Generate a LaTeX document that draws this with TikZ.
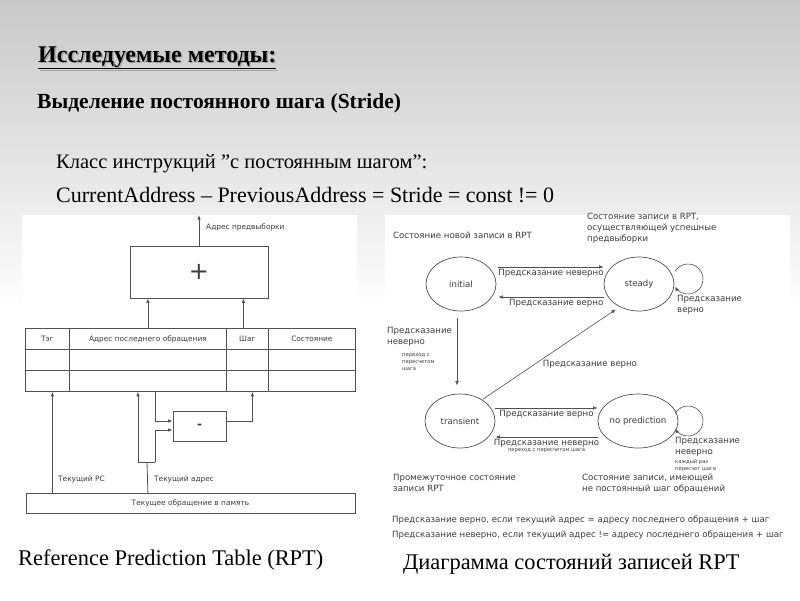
\documentclass[tikz,border=0pt]{standalone}
\usepackage{fontspec}
\setmainfont{Liberation Serif}
\newfontfamily\diafont{DejaVu Sans}
\usetikzlibrary{arrows.meta, positioning, shapes.geometric, calc}
\definecolor{dkgray}{RGB}{60,60,60}
\definecolor{lngray}{RGB}{80,80,80}
\definecolor{bgtop}{RGB}{200,200,200}
\tikzset{
  arr/.style={draw=lngray, line width=0.8pt, -{Latex[length=4.5pt,width=3.5pt]}},
  ln/.style={draw=lngray, line width=0.8pt},
  cellbox/.style={draw=lngray, line width=0.8pt, inner sep=0pt, font=\diafont\fontsize{7.4}{8}\selectfont, text=dkgray},
  stnode/.style={ellipse, draw=lngray, line width=0.7pt, minimum width=70pt, minimum height=54pt, inner sep=0pt, font=\diafont\fontsize{8.6}{9}\selectfont, text=dkgray},
  lbl/.style={font=\diafont\fontsize{8.6}{11}\selectfont, text=dkgray, inner sep=0pt, align=left},
  smalllbl/.style={font=\diafont\fontsize{5.2}{7}\selectfont, text=dkgray, inner sep=0pt, align=left},
  tbllbl/.style={font=\diafont\fontsize{7.4}{8}\selectfont, text=dkgray, inner sep=0pt},
  slide/.style={inner sep=0pt, anchor=base west},
}

\begin{document}
\begin{tikzpicture}[x=1pt, y=-1pt]
\useasboundingbox (0,0) rectangle (800,600);

% Background and panels
\fill[white] (0,0) rectangle (800,600);
\shade[top color=bgtop, bottom color=white] (0,0) rectangle (800,310);
\fill[white] (22,215) rectangle (357,525);
\fill[white] (385,215) rectangle (790,548);

% Slide text
\node[slide, font=\bfseries\fontsize{24}{26}\selectfont, text=black!35] at (39.5,63.5) {\underline{Исследуемые методы:}};
\node[slide, font=\bfseries\fontsize{24}{26}\selectfont] (title) at (38,62) {\underline{Исследуемые методы:}};
\node[slide, font=\bfseries\fontsize{21.5}{24}\selectfont] (subtitle) at (37,108) {Выделение постоянного шага (Stride)};
\node[slide, font=\fontsize{20.5}{22}\selectfont] (cls) at (56,168) {Класс инструкций ”с постоянным шагом”:};
\node[slide, font=\fontsize{22}{24}\selectfont] (formula) at (56,202) {CurrentAddress – PreviousAddress = Stride = const != 0};

% Captions
\node[slide, font=\fontsize{22.4}{24}\selectfont] (capl) at (18,565) {Reference Prediction Table (RPT)};
\node[slide, font=\fontsize{22.4}{24}\selectfont] (capr) at (403,569) {Диаграмма состояний записей RPT};

% ---------------- RPT ----------------
% Adder
\node[cellbox, minimum width=138pt, minimum height=52pt, font=\diafont\fontsize{24}{24}\selectfont] (plus) at (199,272) {+};
\coordinate (pfaddr) at (199,215);
\draw[arr] (plus.north) -- (pfaddr);
\node[tbllbl, anchor=west] (pflbl) at (206,227) {Адрес предвыборки};

% Table rows
\foreach \r/\ya in {1/328, 2/349, 3/370}
  \foreach \c/\xa/\w in {1/25/44, 2/69/157, 3/226/42, 4/268/87}
    \node[cellbox, minimum width={\w pt}, minimum height=21pt, anchor=north west] (c-\r-\c) at (\xa,\ya) {};
\node[tbllbl] at (c-1-1) {Тэг};
\node[tbllbl] at (c-1-2) {Адрес последнего обращения};
\node[tbllbl] at (c-1-3) {Шаг};
\node[tbllbl] at (c-1-4) {Состояние};

\draw[arr] (c-1-2.north) -- (c-1-2.north |- plus.south);
\draw[arr] ([xshift=-4pt]c-1-3.north) -- ([xshift=-4pt]c-1-3.north |- plus.south);

% Memory access
\node[cellbox, minimum width=329pt, minimum height=20pt] (mem) at (190.5,503) {Текущее обращение в память};
\draw[arr] ([xshift=5pt]c-3-1.south |- mem.north) -- ([xshift=5pt]c-3-1.south);
\node[tbllbl, anchor=west] (pclbl) at (58,479) {Текущий PC};

% Subtractor
\node[cellbox, minimum width=53pt, minimum height=30pt, font=\diafont\bfseries\fontsize{12}{12}\selectfont] (minus) at (199.5,426) {-};
\coordinate (split) at (147,462);
\coordinate (splitl) at (138,462);
\coordinate (splitr) at (155,462);
\draw[ln] (c-3-2.south |- mem.north) -- (split);
\draw[ln] (splitl) -- (splitr);
\draw[arr] (splitl) -- (splitl |- c-3-2.south);
\draw[arr] (splitr) |- ([yshift=-4pt]minus.west);
\draw[arr] (splitr |- c-3-2.south) |- ([yshift=5pt]minus.west);
\draw[arr] ([yshift=5pt]minus.east) -| ([xshift=5pt]c-3-3.south);
\node[tbllbl, anchor=west] (adlbl) at (154,479) {Текущий адрес};

% ---------------- State diagram ----------------
\node[stnode] (initial) at (461,284) {initial};
\node[stnode] (steady) at (639,284) {steady};
\node[stnode] (transient) at (460,421) {transient};
\node[stnode] (nopred) at (638,421) {no prediction};

\node[lbl, anchor=west] (newrec) at (393,235) {Состояние новой записи в RPT};
\node[lbl, anchor=north west] (okrec) at (587,213) {Состояние записи в RPT,\\осуществляющей успешные\\предвыборки};

% initial <-> steady
\draw[arr, line width=0.6pt] ([xshift=2pt,yshift=17pt]initial.east) -- ([yshift=17pt]steady.west)
  node[lbl, midway, below=2pt] {Предсказание неверно};
\draw[arr, line width=0.6pt] ([yshift=-13pt]steady.west) -- ([xshift=2pt,yshift=-13pt]initial.east)
  node[lbl, pos=0.45, below=2pt] {Предсказание верно};

% steady loop
\coordinate (sloop) at (688,279);
\draw[arr, line width=0.6pt] ([shift={(-150:15)}]sloop) arc[start angle=-150, end angle=150, radius=15];
\node[lbl, anchor=north west] (sllbl) at (677,295) {Предсказание\\верно};

% initial -> transient
\draw[arr, line width=0.6pt] ([xshift=-4pt,yshift=-7pt]initial.south) -- ([xshift=-3pt,yshift=8pt]transient.north);
\node[lbl, anchor=west] (itlbl) at (387,337) {Предсказание\\неверно};
\node[smalllbl, anchor=west] (itsm) at (402,362) {переход с\\пересчетом\\шага};

% transient -> steady
\draw[arr, line width=0.6pt] ([xshift=1pt]transient.45) -- ([xshift=-3pt,yshift=-3pt]steady.228)
  node[lbl, pos=0.45, anchor=north west, yshift=-1pt] {Предсказание верно};

% transient <-> no prediction
\draw[arr, line width=0.6pt] ([yshift=13pt]transient.east) -- ([yshift=13pt]nopred.west)
  node[lbl, midway, below=2pt] {Предсказание верно};
\draw[arr, line width=0.6pt] ([yshift=-16pt]nopred.west) -- ([yshift=-16pt]transient.east)
  node[lbl, midway, below=2pt] (ntlbl) {Предсказание неверно};
\node[smalllbl, anchor=north] at ([yshift=-1pt]ntlbl.south) {переход с пересчетом шага};

% no prediction loop
\coordinate (nloop) at (688,421);
\draw[arr, line width=0.6pt] ([shift={(-150:15)}]nloop) arc[start angle=-150, end angle=150, radius=15];
\node[lbl, anchor=north west] (nllbl) at (675,437) {Предсказание\\неверно};
\node[smalllbl, anchor=north west] at (675,459) {каждый раз\\пересчет шага};

\node[lbl, anchor=north west] (trlbl) at (393,474) {Промежуточное состояние\\записи RPT};
\node[lbl, anchor=north west] (nplbl) at (582,474) {Состояние записи, имеющей\\не постоянный шаг обращений};

\node[lbl, anchor=west] (rule1) at (392,520) {Предсказание верно, если текущий адрес = адресу последнего обращения + шаг};
\node[lbl, anchor=west] (rule2) at (392,535) {Предсказание неверно, если текущий адрес != адресу последнего обращения + шаг};

\end{tikzpicture}
\end{document}
